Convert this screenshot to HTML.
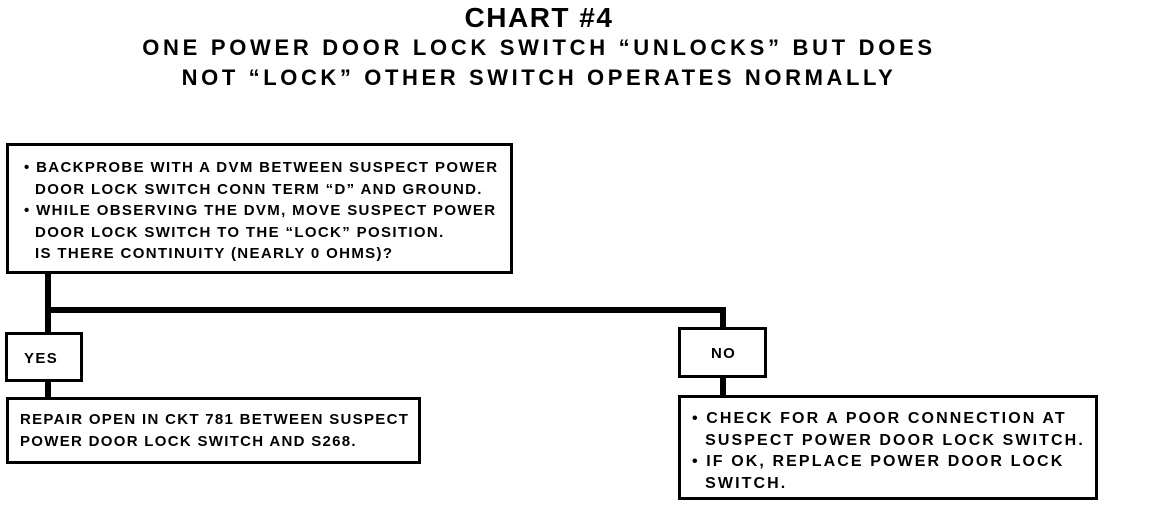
<!DOCTYPE html>
<html><head><style>
body{margin:0;width:1152px;height:514px;background:#fff;position:relative;overflow:hidden;font-family:"Liberation Sans",Arial,sans-serif;font-weight:bold;color:#000}
.t{position:absolute;white-space:nowrap;text-align:center;left:0;width:1078px}
.b{position:absolute;border:3px solid #000;box-sizing:border-box}
.l{position:absolute;background:#000}
.x{position:absolute;white-space:nowrap;font-size:15px;letter-spacing:1.35px;line-height:21.5px}
</style></head><body>
<div class="t" style="top:2px;font-size:28px;letter-spacing:1.5px">CHART #4</div>
<div class="t" style="top:35px;font-size:22px;letter-spacing:3.7px">ONE POWER DOOR LOCK SWITCH “UNLOCKS” BUT DOES</div>
<div class="t" style="top:65px;font-size:22px;letter-spacing:3.6px">NOT “LOCK” OTHER SWITCH OPERATES NORMALLY</div>

<div class="b" style="left:6px;top:143px;width:507px;height:131px"></div>
<div class="x" style="left:24px;top:157px">• BACKPROBE WITH A DVM BETWEEN SUSPECT POWER<br>&nbsp;&nbsp;DOOR LOCK SWITCH CONN TERM “D” AND GROUND.<br>• WHILE OBSERVING THE DVM, MOVE SUSPECT POWER<br>&nbsp;&nbsp;DOOR LOCK SWITCH TO THE “LOCK” POSITION.<br>&nbsp;&nbsp;IS THERE CONTINUITY (NEARLY 0 OHMS)?</div>

<div class="l" style="left:45px;top:273px;width:6px;height:60px"></div>
<div class="l" style="left:45px;top:307px;width:681px;height:6px"></div>
<div class="l" style="left:720px;top:307px;width:6px;height:22px"></div>

<div class="b" style="left:5px;top:332px;width:78px;height:50px"></div>
<div class="x" style="left:24px;top:348px">YES</div>
<div class="l" style="left:45px;top:381px;width:6px;height:17px"></div>
<div class="b" style="left:6px;top:397px;width:415px;height:67px"></div>
<div class="x" style="left:20px;top:409px;letter-spacing:1.3px">REPAIR OPEN IN CKT 781 BETWEEN SUSPECT<br>POWER DOOR LOCK SWITCH AND S268.</div>

<div class="b" style="left:678px;top:327px;width:89px;height:51px"></div>
<div class="x" style="left:711px;top:343px">NO</div>
<div class="l" style="left:720px;top:377px;width:6px;height:19px"></div>
<div class="b" style="left:678px;top:395px;width:420px;height:105px"></div>
<div class="x" style="left:692px;top:408px;font-size:16px;letter-spacing:2.1px">• CHECK FOR A POOR CONNECTION AT<br>&nbsp;&nbsp;SUSPECT POWER DOOR LOCK SWITCH.<br>• IF OK, REPLACE POWER DOOR LOCK<br>&nbsp;&nbsp;SWITCH.</div>
</body></html>
